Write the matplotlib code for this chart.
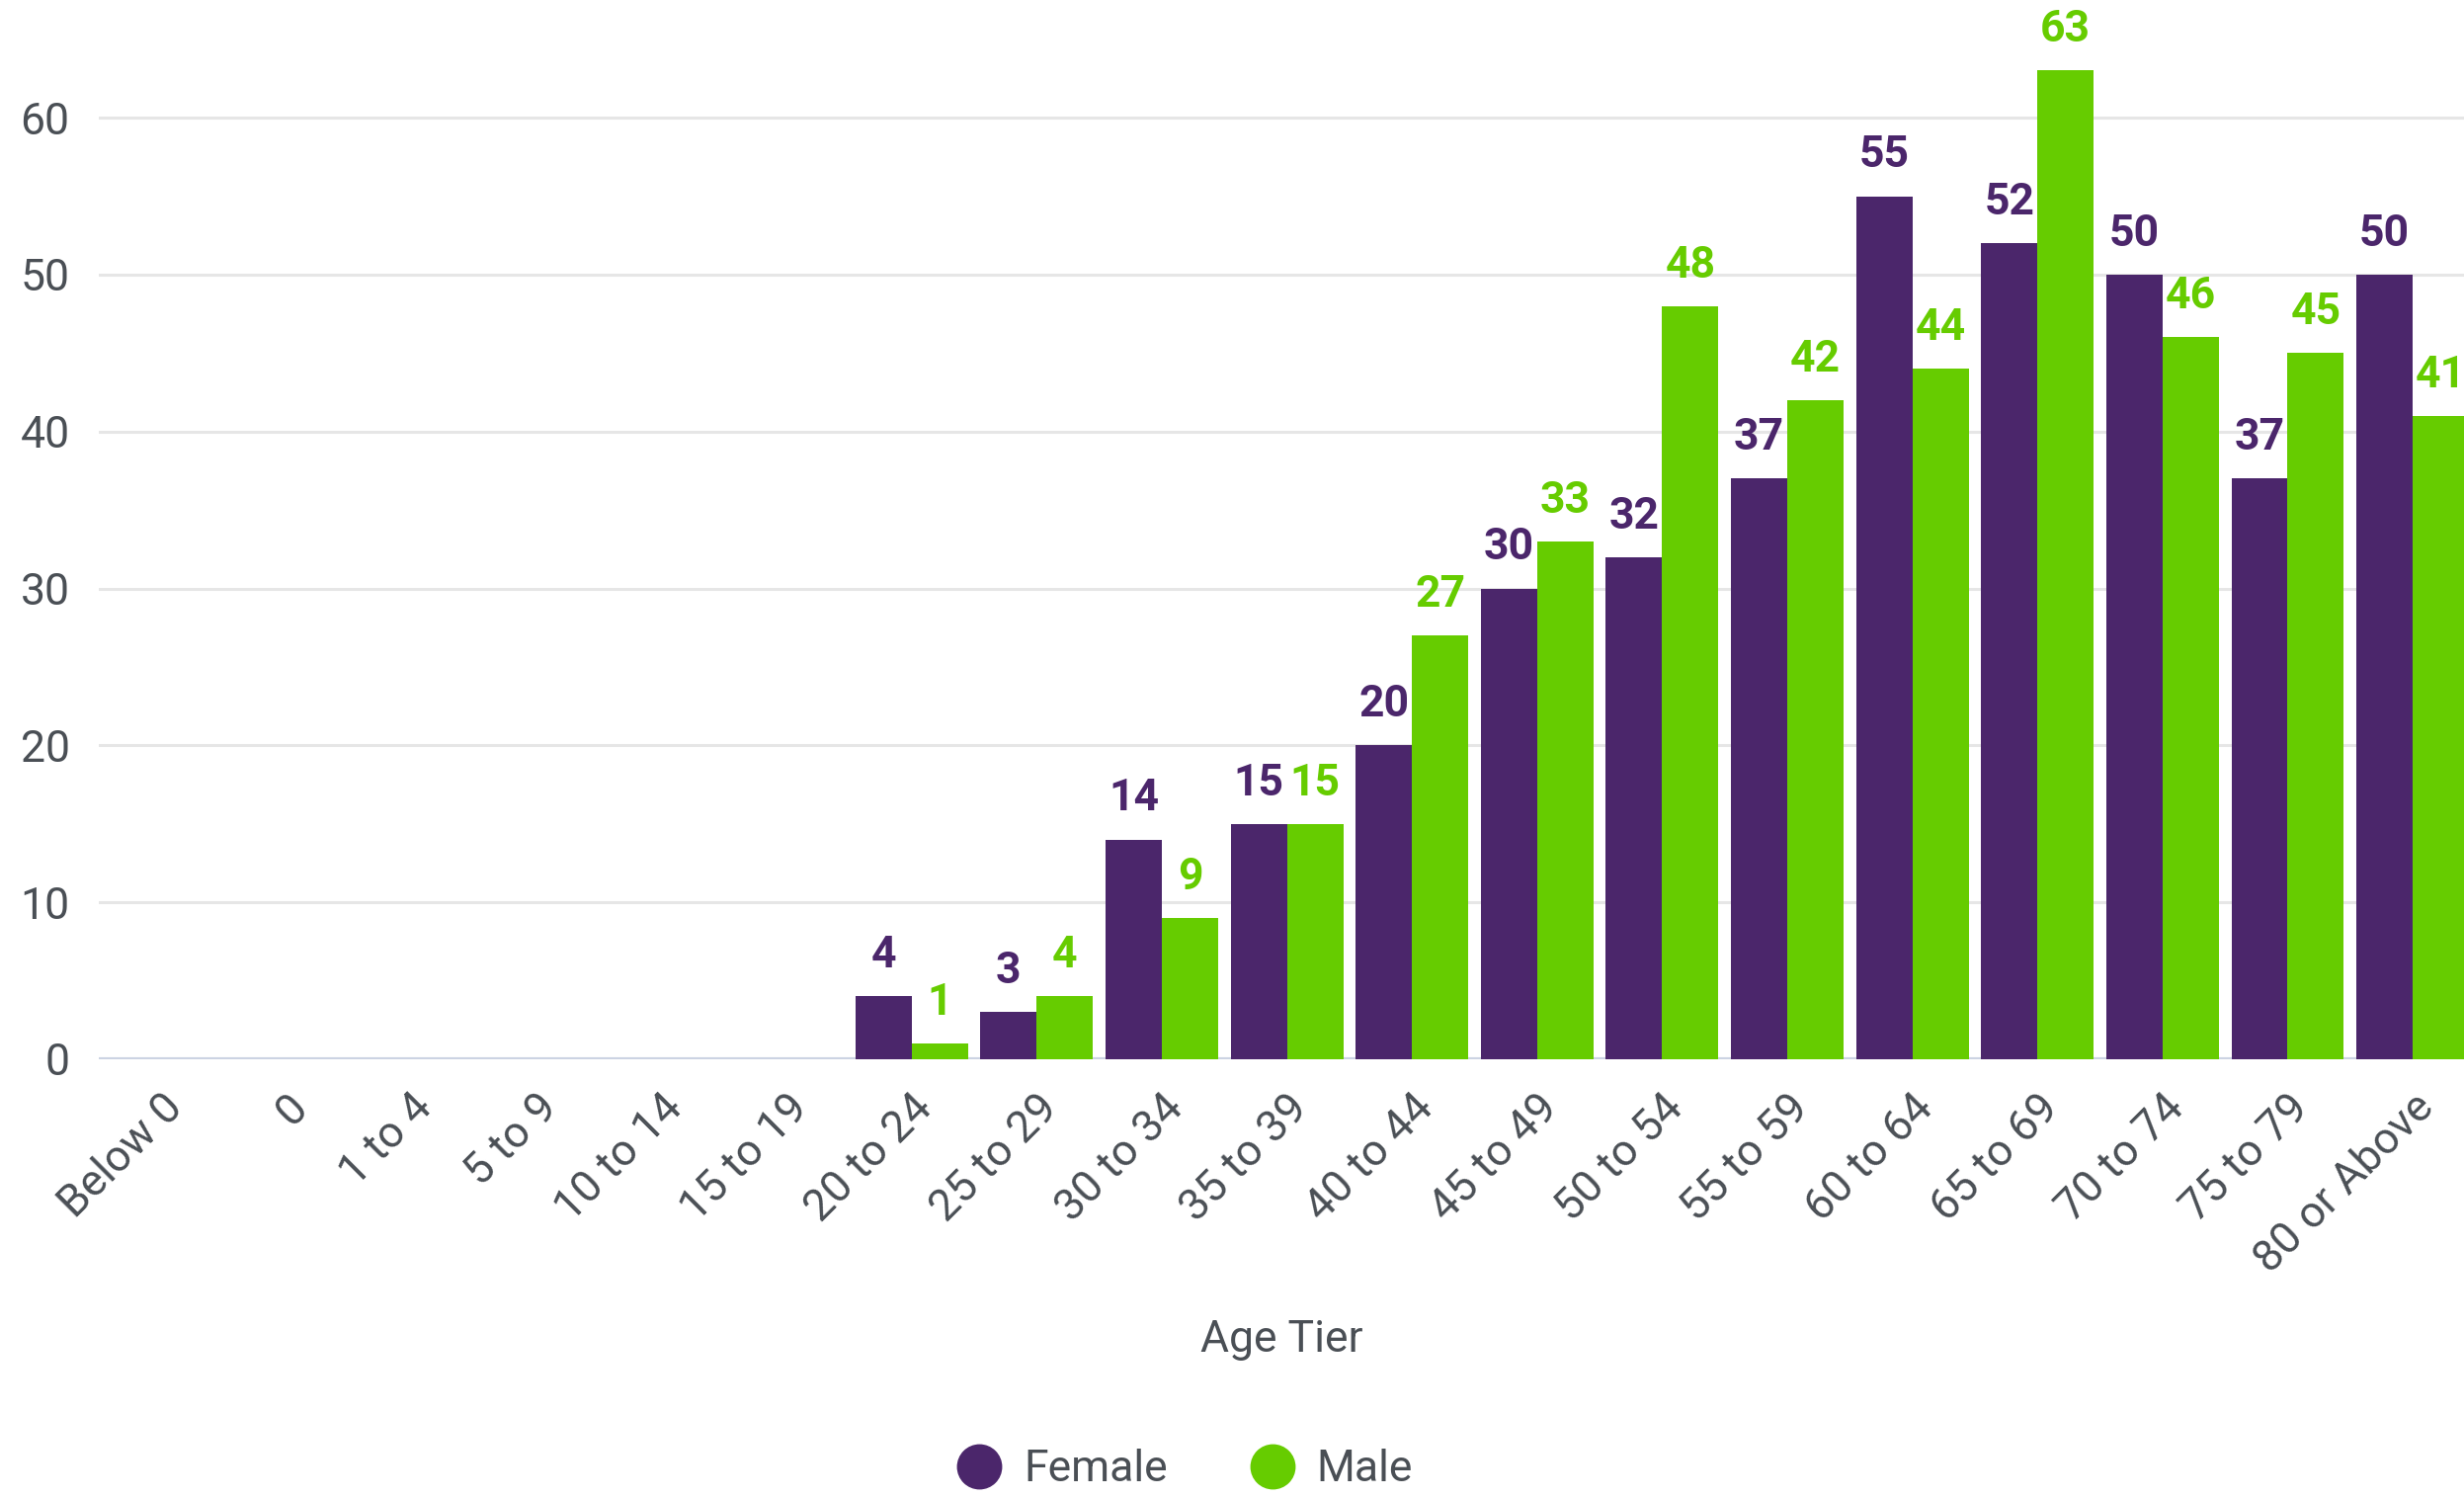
import numpy as np
from matplotlib import pyplot as plt
from matplotlib.lines import Line2D

categories = ["Below 0", "0", "1 to 4", "5 to 9", "10 to 14", "15 to 19",
              "20 to 24", "25 to 29", "30 to 34", "35 to 39", "40 to 44",
              "45 to 49", "50 to 54", "55 to 59", "60 to 64", "65 to 69",
              "70 to 74", "75 to 79", "80 or Above"]
female = [0, 0, 0, 0, 0, 0, 4, 3, 14, 15, 20, 30, 32, 37, 55, 52, 50, 37, 50]
male = [0, 0, 0, 0, 0, 0, 1, 4, 9, 15, 27, 33, 48, 42, 44, 63, 46, 45, 41]
series_names = ["Female", "Male"]
yticks = [0, 10, 20, 30, 40, 50, 60]

PURPLE = "#4B266B"
GREEN = "#66CC00"
TEXT = "#4A4F55"
FS = 32

plt.rcParams['font.family'] = ['Roboto', 'DejaVu Sans']

fig = plt.figure(figsize=(24.94, 15.16), dpi=100)
ax = fig.add_axes([0.040, 0.2929, 0.960, 0.7071])

x = np.arange(len(categories))
w = 0.45
bars_f = ax.bar(x - w / 2, female, w, color=PURPLE, zorder=3)
bars_m = ax.bar(x + w / 2, male, w, color=GREEN, zorder=3)

# value labels above the bars, skip the empty tiers
for bars, vals, col in [(bars_f, female, PURPLE), (bars_m, male, GREEN)]:
    for b, v in zip(bars, vals):
        if v == 0:
            continue
        ax.annotate(str(v), (b.get_x() + b.get_width() / 2, v),
                    xytext=(0, 21), textcoords="offset points",
                    ha="center", va="baseline", fontsize=FS,
                    fontweight="bold", color=col, annotation_clip=False)

ax.set_xlim(-0.5, -0.5 + (2494 - 100) / 126.6)
ax.set_ylim(0, 67.5)
ax.set_yticks(yticks)
ax.set_xticks(x)
ax.set_xticklabels(categories, rotation=45, ha="right",
                   rotation_mode="anchor", fontsize=FS, color=TEXT)
ax.tick_params(axis="x", length=0, pad=20)
ax.tick_params(axis="y", length=0, pad=21, labelsize=FS, labelcolor=TEXT)

for sp in ax.spines.values():
    sp.set_visible(False)
ax.grid(axis="y", color="#E6E6E6", linewidth=2.2, zorder=0)
ax.axhline(0, color="#CCD3E3", linewidth=3, zorder=2)

ax.set_xlabel("Age Tier", fontsize=FS, color=TEXT)
ax.xaxis.set_label_coords(0.5, -0.245)

handles = [Line2D([], [], marker="o", linestyle="none", markersize=32,
                  markerfacecolor=c, markeredgecolor=c)
           for c in [PURPLE, GREEN]]
leg = fig.legend(handles, series_names, loc="center", ncol=2,
                 bbox_to_anchor=(0.481, 0.019), frameon=False, fontsize=FS,
                 handletextpad=0.5, columnspacing=1.9, handlelength=1.0)
for t in leg.get_texts():
    t.set_color(TEXT)

plt.savefig("out.png", dpi=100)
plt.close()
